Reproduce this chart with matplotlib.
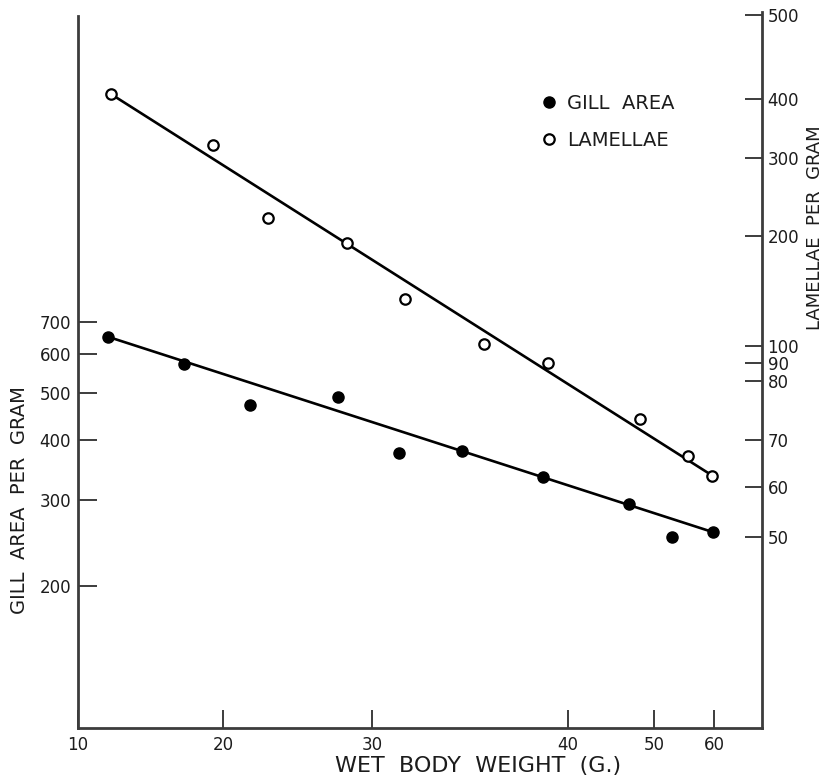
import matplotlib
matplotlib.use("Agg")
import matplotlib.pyplot as plt
import numpy as np
from matplotlib.lines import Line2D

plt.rcParams["font.family"] = ["DejaVu Sans"]

# Data
weight_gill = [12.1, 17.3, 21.8, 27.7, 31.4, 34.6, 38.7, 47.1, 53.0, 59.9]
gill_area = [652, 573, 472, 491, 376, 380, 335, 295, 252, 258]

weight_lam = [12.3, 19.3, 23.0, 28.3, 31.7, 35.7, 39.0, 48.4, 55.7, 59.7]
lamellae = [405, 319, 220, 191, 134.5, 101, 90, 73.4, 66.4, 62.3]

# fitted lines (end points)
gill_fit_x = [12.1, 59.9]
gill_fit_y = [652, 258]
lam_fit_x = [12.3, 59.7]
lam_fit_y = [405, 62.3]

x_ticks = [10, 20, 30, 40, 50, 60]
left_ticks = [200, 300, 400, 500, 600, 700]
right_ticks = [50, 60, 70, 80, 90, 100, 200, 300, 400, 500]

# The printed axes are hand-ruled: tick marks are not evenly spaced,
# so calibrate the scales piecewise from where the ticks sit.
x_cal_val = np.array([0, 10, 20, 30, 40, 50, 60, 100])
x_cal_pos = np.array([-67, 78, 223, 372, 568, 654, 714, 954])


def x_fwd(v):
    return np.interp(v, x_cal_val, x_cal_pos)


def x_inv(p):
    return np.interp(p, x_cal_pos, x_cal_val)


r_cal_log = np.log10([10, 50, 60, 70, 80, 90, 100, 200, 300, 400, 500, 5000])
r_cal_pos = -np.array([1552, 537, 487, 440, 381, 363, 346, 236, 158, 99, 15, -851])


def r_fwd(v):
    v = np.clip(np.asarray(v, dtype=float), 1e-3, None)
    return np.interp(np.log10(v), r_cal_log, r_cal_pos)


def r_inv(p):
    return 10 ** np.interp(p, r_cal_pos, r_cal_log)


ink = "#1c1c1c"
spine_col = "#3c3c3c"

fig = plt.figure(figsize=(8.26, 7.78), dpi=100)
ax = fig.add_axes([78 / 826, 50 / 778, 684 / 826, 716 / 778])

ax.set_xscale("function", functions=(x_fwd, x_inv))
ax.set_xlim(10, float(x_inv(762)))
ax.set_yscale("log")
ax.set_ylim(101.9, 3048)

ax2 = ax.twinx()
ax2.set_yscale("function", functions=(r_fwd, r_inv))
ax2.set_ylim(float(r_inv(-728)), float(r_inv(-12)))

# gill area (left axis)
ax.plot(gill_fit_x, gill_fit_y, color="black", lw=1.9, zorder=2)
ax.plot(weight_gill, gill_area, "o", color="black", ms=8, zorder=3)

# lamellae (right axis)
ax2.plot(lam_fit_x, lam_fit_y, color="black", lw=1.9, zorder=2)
ax2.plot(weight_lam, lamellae, "o", mfc="white", mec="black", mew=1.6, ms=7.5, zorder=3)

# axes look
for s in ["top", "right"]:
    ax.spines[s].set_visible(False)
for s in ["top", "left", "bottom"]:
    ax2.spines[s].set_visible(False)
for sp in [ax.spines["left"], ax.spines["bottom"], ax2.spines["right"]]:
    sp.set_color(spine_col)
    sp.set_linewidth(2)
ax.spines["left"].set_bounds(101.9, 2991)

ax.set_xticks(x_ticks)
ax.set_xticklabels([str(t) for t in x_ticks])
ax.xaxis.set_minor_locator(plt.NullLocator())
ax.set_yticks(left_ticks)
ax.set_yticklabels([str(t) for t in left_ticks])
ax.yaxis.set_minor_locator(plt.NullLocator())
ax2.set_yticks(right_ticks)
ax2.set_yticklabels([str(t) for t in right_ticks])
ax2.yaxis.set_minor_locator(plt.NullLocator())

ax.tick_params(axis="x", direction="in", length=13, width=1.4, pad=6,
               labelsize=12, colors=spine_col, labelcolor=ink)
ax.tick_params(axis="y", direction="in", length=14, width=1.4, pad=5,
               labelsize=12, colors=spine_col, labelcolor=ink)
ax2.tick_params(axis="y", direction="in", length=12, width=1.4, pad=4,
                labelsize=12, colors=spine_col, labelcolor=ink)

fig.text(478 / 826, 1 - 766 / 778, "WET  BODY  WEIGHT  (G.)", ha="center",
         va="center", fontsize=16, color=ink)
fig.text(20 / 826, 1 - 500 / 778, "GILL  AREA  PER  GRAM", rotation=90,
         ha="center", va="center", fontsize=14, color=ink)
fig.text(815 / 826, 1 - 228 / 778, "LAMELLAE  PER  GRAM", rotation=90,
         ha="center", va="center", fontsize=13, color=ink)

handles = [
    Line2D([], [], ls="none", marker="o", color="black", ms=8),
    Line2D([], [], ls="none", marker="o", mfc="white", mec="black", mew=1.6, ms=7.5),
]
fig.legend(handles, ["GILL  AREA", "LAMELLAE"], loc="center left",
           bbox_to_anchor=(541 / 826, 1 - 122 / 778), frameon=False,
           fontsize=14, handlelength=0.8, handletextpad=0.53,
           labelspacing=0.95, borderpad=0, borderaxespad=0, labelcolor=ink)

fig.savefig("out.png", dpi=100)
